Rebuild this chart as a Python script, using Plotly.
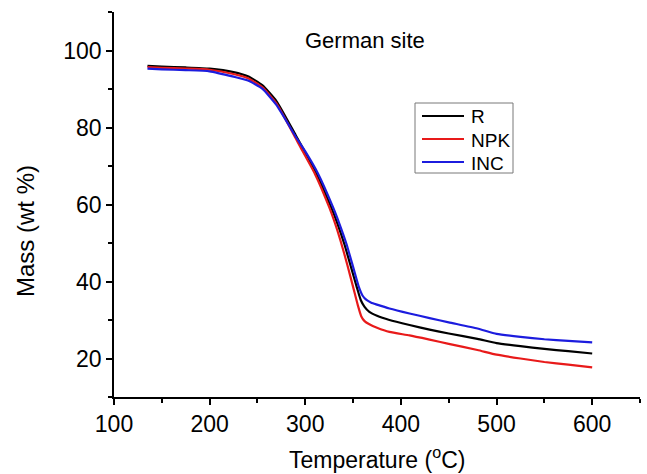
import plotly.graph_objects as go

# Temperature (°C) and mass (wt %)
temp_R = [135, 150, 175, 200, 225, 240, 255, 270, 290, 300, 311.7, 327, 334, 341, 348, 354, 358, 362, 367, 375, 388, 409, 430, 450, 480, 500, 525, 550, 575, 600]
mass_R = [96.0, 95.8, 95.6, 95.3, 94.4, 93.3, 91.0, 86.8, 78.0, 73.5, 68.0, 59.3, 54.8, 49.6, 43.6, 38.4, 35.2, 33.4, 32.1, 31.1, 30.0, 28.7, 27.5, 26.5, 25.1, 24.0, 23.2, 22.5, 21.9, 21.3]

temp_NPK = [135, 150, 175, 200, 225, 240, 255, 270, 290, 294, 310, 325, 331, 337, 344, 350, 355, 358.5, 362, 367, 375, 388, 409, 430, 450, 480, 500, 525, 550, 575, 600]
mass_NPK = [95.7, 95.5, 95.3, 95.0, 93.9, 92.8, 90.5, 86.2, 77.2, 75.3, 68.0, 59.3, 55.2, 50.5, 44.3, 38.6, 33.8, 31.0, 29.7, 28.9, 28.0, 26.9, 26.0, 24.9, 23.8, 22.2, 21.0, 20.0, 19.1, 18.4, 17.7]

temp_INC = [135, 150, 175, 200, 225, 240, 255, 270, 290, 300, 313.4, 329, 336, 343, 350, 356, 360, 364, 369, 375, 388, 409, 430, 450, 480, 500, 525, 550, 575, 600]
mass_INC = [95.3, 95.1, 94.9, 94.6, 93.2, 92.2, 90.1, 85.8, 77.6, 73.8, 68.0, 59.3, 54.8, 49.8, 43.8, 38.6, 36.3, 35.2, 34.5, 34.0, 33.0, 31.7, 30.5, 29.4, 27.8, 26.4, 25.6, 25.0, 24.6, 24.2]

x_ticks = [100, 200, 300, 400, 500, 600]
y_ticks = [20, 40, 60, 80, 100]
series_names = ["R", "NPK", "INC"]
series_colors = ["rgb(0,0,0)", "rgb(232,26,26)", "rgb(28,28,222)"]

FONT = "Liberation Sans, Arial, sans-serif"

fig = go.Figure()
for name, xs, ys, col in zip(series_names, [temp_R, temp_NPK, temp_INC],
                             [mass_R, mass_NPK, mass_INC], series_colors):
    fig.add_trace(go.Scatter(x=xs, y=ys, mode="lines", name=name, showlegend=False,
                             line=dict(color=col, width=2.2, shape="spline", smoothing=0.5)))

axis_common = dict(
    showgrid=False, zeroline=False, showline=True, linecolor="black", linewidth=1.5,
    ticks="outside", ticklen=6, tickwidth=1.5, tickcolor="black",
    tickfont=dict(family=FONT, size=23, color="black"),
    minor=dict(ticks="outside", ticklen=4, tickwidth=1.5, tickcolor="black"),
)

fig.update_xaxes(range=[100, 650], tickvals=x_ticks, ticktext=[str(v) for v in x_ticks],
                 minor_dtick=50, minor_tick0=0, **axis_common)
fig.update_yaxes(range=[10, 110], tickvals=y_ticks, ticktext=[str(v) for v in y_ticks],
                 minor_dtick=10, minor_tick0=0, **axis_common)

# pixel geometry of the plot area
plot_l, plot_r, plot_t, plot_b = 114, 640, 12, 397
def px(xp):
    return (xp - plot_l) / (plot_r - plot_l)
def py(yp):
    return (plot_b - yp) / (plot_b - plot_t)

shapes = []
annotations = [
    dict(text="German site", x=px(365), y=py(40), xanchor="center", yanchor="middle"),
    dict(text="Temperature (<sup>o</sup>C)", x=px(377), y=py(475), xanchor="center", yanchor="bottom",
         font_size=23),
    dict(text="Mass (wt %)", x=px(25), y=py(231), xanchor="center", yanchor="middle",
         textangle=-90, font_size=24),
]
for a in annotations:
    a.update(xref="paper", yref="paper", showarrow=False)
    a["font"] = dict(family=FONT, size=a.pop("font_size", 22), color="black")

# manual legend box (paper coordinates)
shapes.append(dict(type="rect", xref="paper", yref="paper",
                   x0=px(415), x1=px(513), y0=py(103), y1=py(173),
                   line=dict(color="rgb(120,120,120)", width=1), fillcolor="white", layer="above"))
for name, col, yc in zip(series_names, series_colors, [116, 139, 162]):
    shapes.append(dict(type="line", xref="paper", yref="paper",
                       x0=px(422), x1=px(464), y0=py(yc), y1=py(yc),
                       line=dict(color=col, width=2), layer="above"))
    annotations.append(dict(text=name, x=px(469), y=py(yc + 1), xref="paper", yref="paper",
                            xanchor="left", yanchor="middle", showarrow=False,
                            font=dict(family=FONT, size=19, color="black")))

fig.update_layout(
    width=647, height=474,
    margin=dict(l=plot_l, r=647 - plot_r, t=plot_t, b=474 - plot_b),
    plot_bgcolor="white", paper_bgcolor="white",
    shapes=shapes, annotations=annotations,
)

fig.write_html("out.html")
